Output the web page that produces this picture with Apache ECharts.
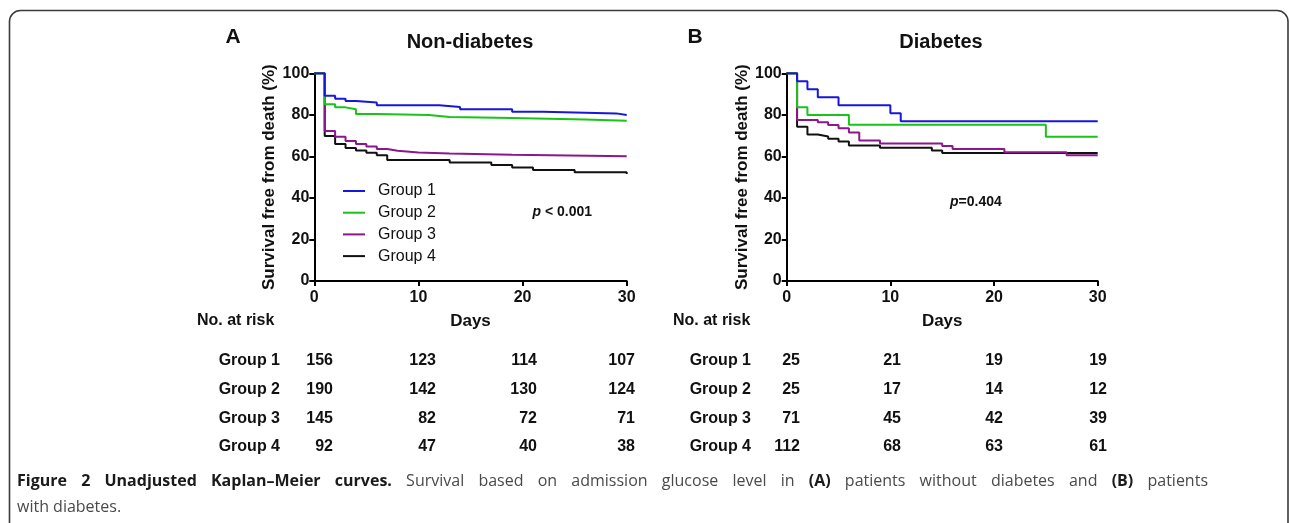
<!DOCTYPE html>
<html>
<head>
<meta charset="utf-8">
<script src="https://cdn.jsdelivr.net/npm/echarts@6/dist/echarts.min.js"></script>
<style>
html,body{margin:0;padding:0;background:#fff;}
#c{width:1290px;height:523px;}
</style>
</head>
<body>
<div id="c"></div>
<script>
// ---------- DATA ----------
const groupNames = ['Group 1', 'Group 2', 'Group 3', 'Group 4'];
const dayTicks = [0, 10, 20, 30];

// Panel A: Non-diabetes (step days and survival %)
const nd1Days = [0, 1, 2, 3, 4, 6, 12, 14, 19, 22, 29, 30];
const nd1Surv = [100, 89.2, 87.8, 86.7, 86.0, 84.6, 83.8, 82.7, 81.5, 80.7, 79.9, 79.9];
const nd2Days = [0, 1, 2, 3, 4, 6, 11, 13, 19, 26, 30];
const nd2Surv = [100, 85.1, 83.6, 82.7, 80.4, 79.9, 79.0, 78.5, 77.8, 77.2, 77.2];
const nd3Days = [0, 1, 2, 3, 4, 5, 6, 7, 8, 10, 13, 19, 30];
const nd3Surv = [100, 72.2, 69.5, 67.4, 66.0, 64.7, 63.6, 62.7, 61.9, 61.4, 60.8, 60.1, 60.1];
const nd4Days = [0, 1, 2, 3, 4, 5, 6, 7, 13, 17, 19, 21, 25, 30];
const nd4Surv = [100, 69.8, 66.0, 64.0, 62.8, 61.7, 60.5, 58.2, 57.0, 55.8, 54.6, 53.4, 52.3, 51.5];

// Panel B: Diabetes
const d1Days = [0, 1, 2, 3, 5, 10, 11, 30];
const d1Surv = [100, 96.2, 92.3, 88.5, 84.6, 80.8, 76.9, 76.9];
const d2Days = [0, 1, 2, 6, 25, 30];
const d2Surv = [100, 83.6, 79.9, 75.2, 69.5, 69.5];
const d3Days = [0, 1, 3, 4, 5, 6, 7, 9, 15, 16, 21, 27, 30];
const d3Surv = [100, 77.5, 76.4, 75.1, 73.5, 71.5, 67.6, 66.2, 65.0, 63.6, 62.0, 60.5, 60.5];
const d4Days = [0, 1, 2, 3, 4, 5, 6, 9, 14, 15, 30];
const d4Surv = [100, 74.3, 70.5, 69.6, 68.5, 67.2, 65.2, 64.2, 62.8, 61.6, 61.3];

// Numbers at risk (days 0, 10, 20, 30)
const riskND1 = [156, 123, 114, 107];
const riskND2 = [190, 142, 130, 124];
const riskND3 = [145, 82, 72, 71];
const riskND4 = [92, 47, 40, 38];
const riskD1 = [25, 21, 19, 19];
const riskD2 = [25, 17, 14, 12];
const riskD3 = [71, 45, 42, 39];
const riskD4 = [112, 68, 63, 61];

const pValueA = ' < 0.001';
const pValueB = '=0.404';

const captionLine1 = [
  ['Figure', 1], ['2', 1], ['Unadjusted', 1], ['Kaplan–Meier', 1], ['curves.', 1],
  ['Survival', 0], ['based', 0], ['on', 0], ['admission', 0], ['glucose', 0], ['level', 0], ['in', 0],
  ['(A)', 1], ['patients', 0], ['without', 0], ['diabetes', 0], ['and', 0], ['(B)', 1], ['patients', 0]
];
const captionLine2 = 'with diabetes.';

// ---------- STYLE / LAYOUT ----------
const FONT = '"Liberation Sans", Arial, Helvetica, sans-serif';
const CAP = '"Open Sans", "Noto Sans", sans-serif';
const CAP_SIZE = 16;
const colors = ['#1717d9', '#18c418', '#8c178c', '#111111'];

const chart = echarts.init(document.getElementById('c'));

function pts(days, surv) { return days.map((d, i) => [d, surv[i]]); }

function axisX(gi) {
  return {
    type: 'value', gridIndex: gi, min: 0, max: 30, interval: 10,
    name: 'Days', nameLocation: 'middle', nameGap: 32,
    nameTextStyle: { fontFamily: FONT, fontWeight: 'bold', fontSize: 17, color: '#111' },
    axisLine: { show: true, onZero: false, lineStyle: { color: '#000', width: 2 } },
    axisTick: { show: true, length: 5, lineStyle: { color: '#000', width: 2 } },
    axisLabel: { fontFamily: FONT, fontWeight: 'bold', fontSize: 16, color: '#111', margin: 9 },
    splitLine: { show: false }
  };
}
function axisY(gi) {
  return {
    type: 'value', gridIndex: gi, min: 0, max: 100, interval: 20,
    name: 'Survival free from death (%)', nameLocation: 'middle', nameGap: 36, nameRotate: 90,
    nameTextStyle: { fontFamily: FONT, fontWeight: 'bold', fontSize: 17, color: '#111' },
    axisLine: { show: true, onZero: false, lineStyle: { color: '#000', width: 2 } },
    axisTick: { show: true, length: 5, lineStyle: { color: '#000', width: 2 } },
    axisLabel: { fontFamily: FONT, fontWeight: 'bold', fontSize: 16, color: '#111', margin: 5 },
    splitLine: { show: false }
  };
}

const ndSets = [[nd1Days, nd1Surv], [nd2Days, nd2Surv], [nd3Days, nd3Surv], [nd4Days, nd4Surv]];
const dSets = [[d1Days, d1Surv], [d2Days, d2Surv], [d3Days, d3Surv], [d4Days, d4Surv]];

const series = [];
[ndSets, dSets].forEach((sets, gi) => {
  sets.forEach((s, k) => {
    series.push({
      type: 'line', name: groupNames[k], xAxisIndex: gi, yAxisIndex: gi,
      step: 'end', symbol: 'none', showSymbol: false, silent: true,
      data: pts(s[0], s[1]),
      lineStyle: { color: colors[k], width: 2 },
      itemStyle: { color: colors[k] },
      z: 10 - k
    });
  });
});

// Graphic texts
const g = [];
g.push({ type: 'rect', shape: { x: 9.5, y: 10.5, width: 1278.5, height: 620, r: 11 },
  style: { fill: 'none', stroke: '#3a3a3a', lineWidth: 1.6 }, silent: true });

function txt(x, y, text, opts) {
  g.push({ type: 'text', x: x, y: y, silent: true,
    style: Object.assign({ text: text, fontFamily: FONT, fontWeight: 'bold', fontSize: 16,
      fill: '#111', textAlign: 'left', textVerticalAlign: 'middle' }, opts || {}) });
}
txt(233, 37, 'A', { fontSize: 21, textAlign: 'center' });
txt(695, 37, 'B', { fontSize: 21, textAlign: 'center' });
txt(470, 42, 'Non-diabetes', { fontSize: 20, textAlign: 'center' });
txt(941, 42, 'Diabetes', { fontSize: 20, textAlign: 'center' });

const pRich = { i: { fontFamily: FONT, fontWeight: 'bold', fontStyle: 'italic', fontSize: 14, fill: '#111' },
                b: { fontFamily: FONT, fontWeight: 'bold', fontSize: 14, fill: '#111' } };
g.push({ type: 'text', x: 592, y: 212, silent: true,
  style: { text: '{i|p}{b|' + pValueA + '}', textAlign: 'right', textVerticalAlign: 'middle', rich: pRich } });
g.push({ type: 'text', x: 950, y: 202.5, silent: true,
  style: { text: '{i|p}{b|' + pValueB + '}', textAlign: 'left', textVerticalAlign: 'middle', rich: pRich } });

// Risk tables
const risksA = [riskND1, riskND2, riskND3, riskND4];
const risksB = [riskD1, riskD2, riskD3, riskD4];
const rowY = [361, 390, 418.5, 447];
const colRightA = [333, 436, 537, 635];
const colRightB = [800, 901, 1003, 1107];
txt(197, 321, 'No. at risk');
txt(673, 321, 'No. at risk');
[[risksA, 280, colRightA], [risksB, 751, colRightB]].forEach(([risks, labRight, cols]) => {
  risks.forEach((row, r) => {
    txt(labRight, rowY[r], groupNames[r], { textAlign: 'right' });
    row.forEach((v, c) => txt(cols[c], rowY[r], String(v), { textAlign: 'right' }));
  });
});

// Caption: line 1 justified between x=17 and x=1208
(function () {
  const ctx = document.createElement('canvas').getContext('2d');
  const fontOf = (b) => (b ? 'bold ' : '') + CAP_SIZE + 'px ' + CAP;
  const widths = captionLine1.map(([w, b]) => { ctx.font = fontOf(b); return ctx.measureText(w).width; });
  const total = widths.reduce((a, b) => a + b, 0);
  const x0 = 17, x1 = 1208;
  const gap = (x1 - x0 - total) / (captionLine1.length - 1);
  let x = x0;
  captionLine1.forEach(([w, b], i) => {
    g.push({ type: 'text', x: x, y: 481, silent: true,
      style: { text: w, fontFamily: CAP, fontWeight: b ? 'bold' : 'normal', fontSize: CAP_SIZE,
        fill: b ? '#1a1a1a' : '#4a4a4a', textVerticalAlign: 'middle' } });
    x += widths[i] + gap;
  });
  g.push({ type: 'text', x: x0, y: 507, silent: true,
    style: { text: captionLine2, fontFamily: CAP, fontSize: CAP_SIZE, fill: '#4a4a4a', textVerticalAlign: 'middle' } });
})();

chart.setOption({
  backgroundColor: '#ffffff',
  animation: false,
  grid: [
    { left: 314.3, top: 73.3, width: 312.4, height: 207.7 },
    { left: 786.7, top: 73.3, width: 311, height: 207.7 }
  ],
  xAxis: [axisX(0), axisX(1)],
  yAxis: [axisY(0), axisY(1)],
  legend: {
    data: groupNames.map((n) => ({ name: n, icon: 'rect' })),
    orient: 'vertical', left: 343, top: 183, padding: 0,
    itemWidth: 22, itemHeight: 2, itemGap: 5.7,
    selectedMode: false,
    textStyle: { fontFamily: FONT, fontSize: 16, lineHeight: 16, color: '#111', padding: [0, 0, 0, 8] }
  },
  series: series,
  graphic: g
});
</script>
</body>
</html>
